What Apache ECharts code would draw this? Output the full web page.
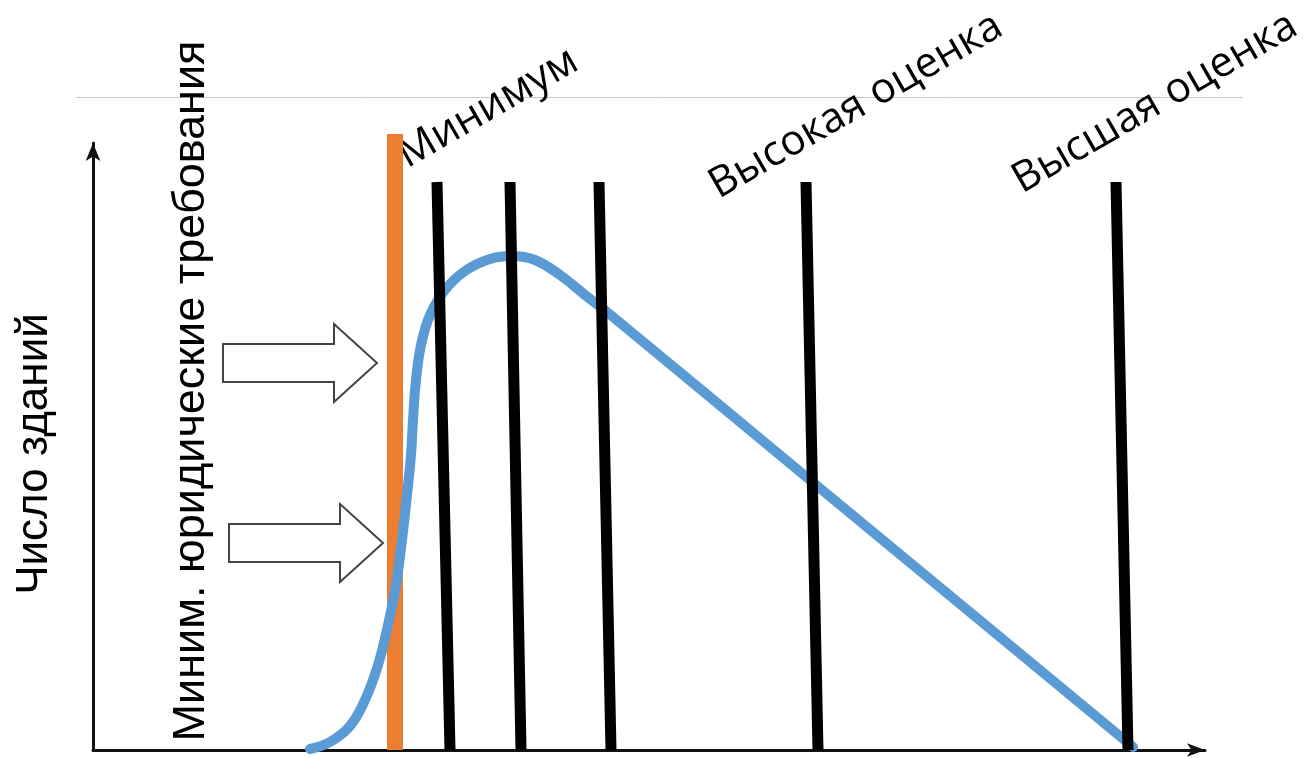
<!DOCTYPE html>
<html>
<head>
<meta charset="utf-8">
<script src="https://cdn.jsdelivr.net/npm/echarts@6/dist/echarts.min.js"></script>
<style>
html,body{margin:0;padding:0;background:#fff;}
#chart{width:1307px;height:758px;}
</style>
</head>
<body>
<div id="chart"></div>
<script>
// Schematic distribution curve: number of buildings vs. performance
const curveX = [217, 237, 257, 272, 285, 295, 303, 309, 314, 318, 320, 323, 328, 337, 352, 372, 397, 419, 442, 467, 492, 514, 717, 907, 1040];
const curveY = [1, 8, 24, 50, 85, 125, 165, 210, 255, 295, 330, 370, 405, 435, 460, 479, 491, 494, 490, 475, 455, 438, 270, 113, 3];
// Legal minimum requirement (orange bar)
const legalMinX = 302;
const legalMinTop = 616;
// Rating thresholds (black lines): x at top, x at bottom
const ratingTopX = [344, 417, 506, 713, 1023];
const ratingBottomX = [357, 428, 518, 725, 1035];
const ratingTop = 568;
// Arrow tips pointing at the legal minimum
const arrowTipX = [284, 290];
const arrowTipY = [387, 207];
// Texts
const yTitle = 'Число зданий';
const legalTitle = 'Миним. юридические требования';
const ratingLabels = ['Минимум', 'Высокая оценка', 'Высшая оценка'];

const chart = echarts.init(document.getElementById('chart'), null, {renderer: 'canvas'});

const series = [];
series.push({
  type: 'line', z: 2, clip: false, silent: true, showSymbol: false,
  data: [[legalMinX, 0], [legalMinX, legalMinTop]],
  lineStyle: {color: '#ed7d31', width: 16, cap: 'butt'}
});
series.push({
  type: 'line', z: 3, clip: false, silent: true, showSymbol: false, smooth: 0.4,
  data: curveX.map((x, i) => [x, curveY[i]]),
  lineStyle: {color: '#5b9bd5', width: 10, cap: 'round', join: 'round'}
});
ratingTopX.forEach((x, i) => {
  series.push({
    type: 'line', z: 4, clip: false, silent: true, showSymbol: false,
    data: [[ratingBottomX[i], 0], [x, ratingTop]],
    lineStyle: {color: '#000', width: 11, cap: 'butt'}
  });
});
series.push({
  type: 'custom', z: 2, clip: false, silent: true,
  data: arrowTipX.map((x, i) => [x, arrowTipY[i]]),
  renderItem: function (params, api) {
    const p = api.coord([api.value(0), api.value(1)]);
    const tx = p[0], ty = p[1];
    const len = 154, head = 43, bh = 19, hh = 39;
    return {
      type: 'polygon',
      shape: {points: [
        [tx - len, ty - bh], [tx - head, ty - bh], [tx - head, ty - hh], [tx, ty],
        [tx - head, ty + hh], [tx - head, ty + bh], [tx - len, ty + bh]
      ]},
      style: {fill: '#fff', stroke: '#444', lineWidth: 2}
    };
  }
});

const option = {
  animation: false,
  grid: {left: 93, right: 102, top: 143, bottom: 8, containLabel: false},
  xAxis: {
    type: 'value', min: 0, max: 1112,
    axisLine: {show: true, lineStyle: {color: '#111', width: 3}, symbol: ['none', 'arrow'], symbolSize: [10, 18]},
    axisTick: {show: false}, axisLabel: {show: false}, splitLine: {show: false}
  },
  yAxis: {
    type: 'value', min: 0, max: 607,
    axisLine: {show: true, lineStyle: {color: '#111', width: 3}, symbol: ['none', 'arrow'], symbolSize: [11, 18]},
    axisTick: {show: false}, axisLabel: {show: false}, splitLine: {show: false}
  },
  series: series,
  graphic: [
    {type: 'line', shape: {x1: 76, y1: 97.5, x2: 1243, y2: 97.5}, style: {stroke: '#c8c8c8', lineWidth: 1}, silent: true},
    {type: 'text', x: 35, y: 454, rotation: Math.PI / 2,
      style: {text: yTitle, font: '44px "Liberation Sans", Arial, sans-serif', fill: '#000', align: 'center', verticalAlign: 'middle'}},
    {type: 'text', x: 192, y: 391, rotation: Math.PI / 2,
      style: {text: legalTitle, font: '45px "Liberation Sans", Arial, sans-serif', fill: '#000', align: 'center', verticalAlign: 'middle'}},
    {type: 'text', x: 488, y: 108, rotation: Math.PI / 6,
      style: {text: ratingLabels[0], font: '42px "Open Sans", sans-serif', fill: '#000', align: 'center', verticalAlign: 'middle'}},
    {type: 'text', x: 856, y: 106, rotation: Math.PI / 6,
      style: {text: ratingLabels[1], font: '42px "Open Sans", sans-serif', fill: '#000', align: 'center', verticalAlign: 'middle'}},
    {type: 'text', x: 1155, y: 103, rotation: Math.PI / 6,
      style: {text: ratingLabels[2], font: '42px "Open Sans", sans-serif', fill: '#000', align: 'center', verticalAlign: 'middle'}}
  ]
};
chart.setOption(option);
</script>
</body>
</html>
